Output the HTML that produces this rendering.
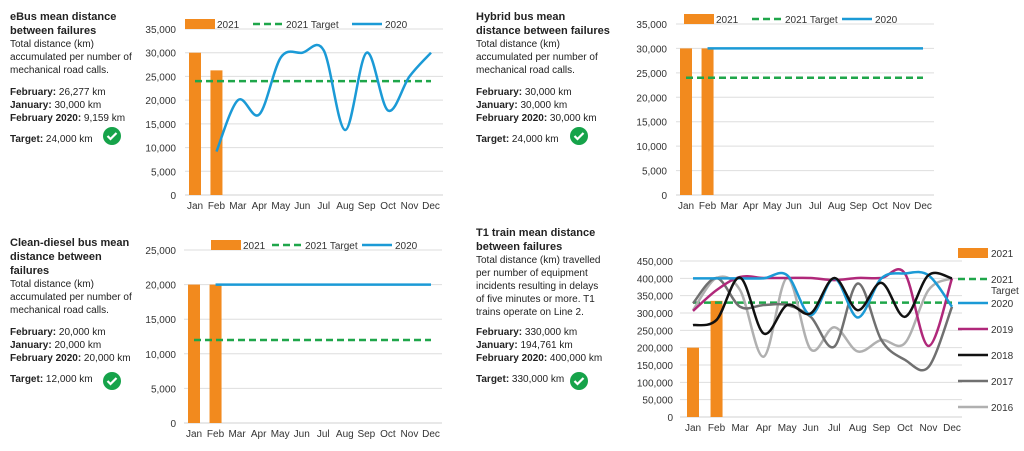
<!DOCTYPE html>
<html><head><meta charset="utf-8"><style>
body{margin:0;background:#fff;width:1024px;height:451px;overflow:hidden;position:relative;font-family:"Liberation Sans",Arial,sans-serif;color:#222}
.tb{position:absolute;font-size:10px;line-height:13px}
.tb h3{margin:0;font-size:11px;line-height:14px;font-weight:bold}
.tb p{margin:0}
svg{position:absolute;left:0;top:0}
</style></head><body>
<div class="tb" style="left:10px;top:10px;width:140px">
<h3>eBus mean distance<br>between failures</h3>
<p>Total distance (km)<br>accumulated per number of<br>mechanical road calls.</p>
<p style="margin-top:9px"><b>February:</b> 26,277 km<br><b>January:</b> 30,000 km<br><b>February 2020:</b> 9,159 km</p>
<p style="margin-top:8px"><b>Target:</b> 24,000 km</p></div>
<div class="tb" style="left:476px;top:10px;width:150px">
<h3>Hybrid bus mean<br>distance between failures</h3>
<p>Total distance (km)<br>accumulated per number of<br>mechanical road calls.</p>
<p style="margin-top:9px"><b>February:</b> 30,000 km<br><b>January:</b> 30,000 km<br><b>February 2020:</b> 30,000 km</p>
<p style="margin-top:8px"><b>Target:</b> 24,000 km</p></div>
<div class="tb" style="left:10px;top:236px;width:140px">
<h3>Clean-diesel bus mean<br>distance between<br>failures</h3>
<p>Total distance (km)<br>accumulated per number of<br>mechanical road calls.</p>
<p style="margin-top:9px"><b>February:</b> 20,000 km<br><b>January:</b> 20,000 km<br><b>February 2020:</b> 20,000 km</p>
<p style="margin-top:8px"><b>Target:</b> 12,000 km</p></div>
<div class="tb" style="left:476px;top:226px;width:150px">
<h3>T1 train mean distance<br>between failures</h3>
<p>Total distance (km) travelled<br>per number of equipment<br>incidents resulting in delays<br>of five minutes or more. T1<br>trains operate on Line 2.</p>
<p style="margin-top:7px"><b>February:</b> 330,000 km<br><b>January:</b> 194,761 km<br><b>February 2020:</b> 400,000 km</p>
<p style="margin-top:8px"><b>Target:</b> 330,000 km</p></div>
<svg id="s" width="1024" height="451"></svg>
<script>
const months=["Jan","Feb","Mar","Apr","May","Jun","Jul","Aug","Sep","Oct","Nov","Dec"];
const ebusBars=[30000,26277];
const ebusTarget=24000;
const ebus2020=[null,9159,20000,17000,29000,30000,30500,13700,30000,17800,25000,30000];
const hybBars=[30000,30000];
const hybTarget=24000;
const hyb2020=[null,30000,30000,30000,30000,30000,30000,30000,30000,30000,30000,30000];
const dslBars=[20000,20000];
const dslTarget=12000;
const dsl2020=[null,20000,20000,20000,20000,20000,20000,20000,20000,20000,20000,20000];
const t1Bars=[200000,335000];
const t1Target=330000;
const t1_2020=[400000,400000,400000,400000,409000,294000,400000,287000,400000,414000,409000,318000];
const t1_2019=[306000,366000,404000,401000,401000,401000,395000,401000,401000,414000,205000,400000];
const t1_2018=[265000,280000,402000,241000,323000,299000,401000,308000,387000,289000,409000,400000];
const t1_2017=[328000,401000,318000,323000,323000,289000,203000,385000,222000,165000,144000,318000];
const t1_2016=[308000,401000,366000,174000,401000,195000,259000,189000,222000,213000,366000,400000];
const yTicks1=[0,5000,10000,15000,20000,25000,30000,35000];
const yTicks3=[0,5000,10000,15000,20000,25000];
const yTicks4=[0,50000,100000,150000,200000,250000,300000,350000,400000,450000];
const S=document.getElementById('s');const NS='http://www.w3.org/2000/svg';
function el(t,a,p){const e=document.createElementNS(NS,t);for(const k in a)e.setAttribute(k,a[k]);(p||S).appendChild(e);return e;}
function txt(x,y,s,anchor,p){const e=el('text',{x:x,y:y,'font-size':10,fill:'#333','text-anchor':anchor||'start','font-family':'Liberation Sans, Arial, sans-serif'},p);e.textContent=s;return e;}
function smooth(pts){let d='M'+pts[0][0]+','+pts[0][1];for(let i=0;i<pts.length-1;i++){const p0=pts[i-1]||pts[i],p1=pts[i],p2=pts[i+1],p3=pts[i+2]||p2;const c1=[p1[0]+(p2[0]-p0[0])/6,p1[1]+(p2[1]-p0[1])/6],c2=[p2[0]-(p3[0]-p1[0])/6,p2[1]-(p3[1]-p1[1])/6];d+=' C'+c1+' '+c2+' '+p2;}return d;}
function chart(o){
 const g=el('g',{});
 const ymax=o.ticks[o.ticks.length-1];
 const y=v=>o.y0-(v/ymax)*(o.y0-o.y1);
 const x=i=>o.x0+i*(o.x1-o.x0)/11;
 o.ticks.forEach(t=>{if(t>0){const l=el('line',{x1:o.pl,x2:o.pr,y1:y(t),y2:y(t),stroke:'#dedede','stroke-width':1},g);}
  const tl=txt(o.lx,y(t)+4,t.toLocaleString('en-US'),'end',g);});
 el('line',{x1:o.pl,x2:o.pr,y1:o.y0,y2:o.y0,stroke:'#d0d0d0'},g);
 months.forEach((m,i)=>{const t=txt(x(i),o.y0+14,m,'middle',g);});
 o.bars.forEach((v,i)=>{const r=el('rect',{x:x(i)-6,y:y(v),width:12,height:o.y0-y(v),fill:'#f28a1e'},g);});
 const tg=el('line',{x1:x(0),x2:x(11),y1:y(o.target),y2:y(o.target),stroke:'#1fa64a','stroke-width':2.5,'stroke-dasharray':'7,4'},g);
 
 o.lines.forEach(L=>{const pts=[];L.data.forEach((v,i)=>{if(v!=null)pts.push([x(i),y(v)]);});
  const p=el('path',{d:smooth(pts),fill:'none',stroke:L.c,'stroke-width':2.5},g);});
 return g;
}
function legendTop(g,lx,ly,xs){
 const a=el('rect',{x:xs[0],y:ly-5,width:30,height:10,fill:'#f28a1e'},g);txt(xs[0]+32,ly+4,'2021','start',g);
 el('line',{x1:xs[1],x2:xs[1]+30,y1:ly,y2:ly,stroke:'#1fa64a','stroke-width':2.5,'stroke-dasharray':'7,4'},g);txt(xs[1]+33,ly+4,'2021 Target','start',g);
 el('line',{x1:xs[2],x2:xs[2]+30,y1:ly,y2:ly,stroke:'#1b9ad6','stroke-width':2.5},g);txt(xs[2]+33,ly+4,'2020','start',g);
}
function check(cx,cy){const g=el('g',{});
 el('circle',{cx:cx,cy:cy,r:9,fill:'#16a34a'},g);el('path',{d:`M${cx-4.5},${cy} l3,3 l6,-6`,fill:'none',stroke:'#fff','stroke-width':2.2},g);}
let g1=chart({name:'ebus-chart',ticks:yTicks1,y0:195,y1:29,x0:195,x1:431,pl:185,pr:443,lx:176,bars:ebusBars,target:ebusTarget,lines:[{n:'2020',c:'#1b9ad6',data:ebus2020}]});
let lg=el('g',{});legendTop(lg,0,24,[185,253,352]);
let g2=chart({name:'hybrid-chart',ticks:yTicks1,y0:195,y1:24,x0:686,x1:923,pl:676,pr:934,lx:667,bars:hybBars,target:hybTarget,lines:[{n:'2020',c:'#1b9ad6',data:hyb2020}]});
lg=el('g',{});legendTop(lg,0,19,[684,752,842]);
let g3=chart({name:'diesel-chart',ticks:yTicks3,y0:423,y1:250,x0:194,x1:431,pl:184,pr:442,lx:176,bars:dslBars,target:dslTarget,lines:[{n:'2020',c:'#1b9ad6',data:dsl2020}]});
lg=el('g',{});legendTop(lg,0,245,[211,272,362]);
const t1Lines=[{n:'2016',c:'#b0b0b0',data:t1_2016},{n:'2017',c:'#707070',data:t1_2017},{n:'2019',c:'#b0287a',data:t1_2019},{n:'2020',c:'#1b9ad6',data:t1_2020},{n:'2018',c:'#111111',data:t1_2018}];
let g4=chart({name:'t1-chart',ticks:yTicks4,y0:417,y1:261,x0:693,x1:952,pl:680,pr:962,lx:673,bars:t1Bars,target:t1Target,lines:t1Lines});
lg=el('g',{});
el('rect',{x:958,y:248,width:30,height:10,fill:'#f28a1e'},lg);txt(991,257,'2021','start',lg);
el('line',{x1:958,x2:988,y1:279,y2:279,stroke:'#1fa64a','stroke-width':2.5,'stroke-dasharray':'7,4'},lg);txt(991,283,'2021','start',lg);txt(991,294,'Target','start',lg);
[['2020','#1b9ad6',306],['2019','#b0287a',332],['2018','#111',358],['2017','#707070',384],['2016','#b0b0b0',410]].forEach(r=>{el('line',{x1:958,x2:988,y1:r[2]-3,y2:r[2]-3,stroke:r[1],'stroke-width':2.5},lg);txt(991,r[2]+1,r[0],'start',lg);});
check(112,136);check(579,136);check(112,381);check(579,381);
</script>
</body></html>
